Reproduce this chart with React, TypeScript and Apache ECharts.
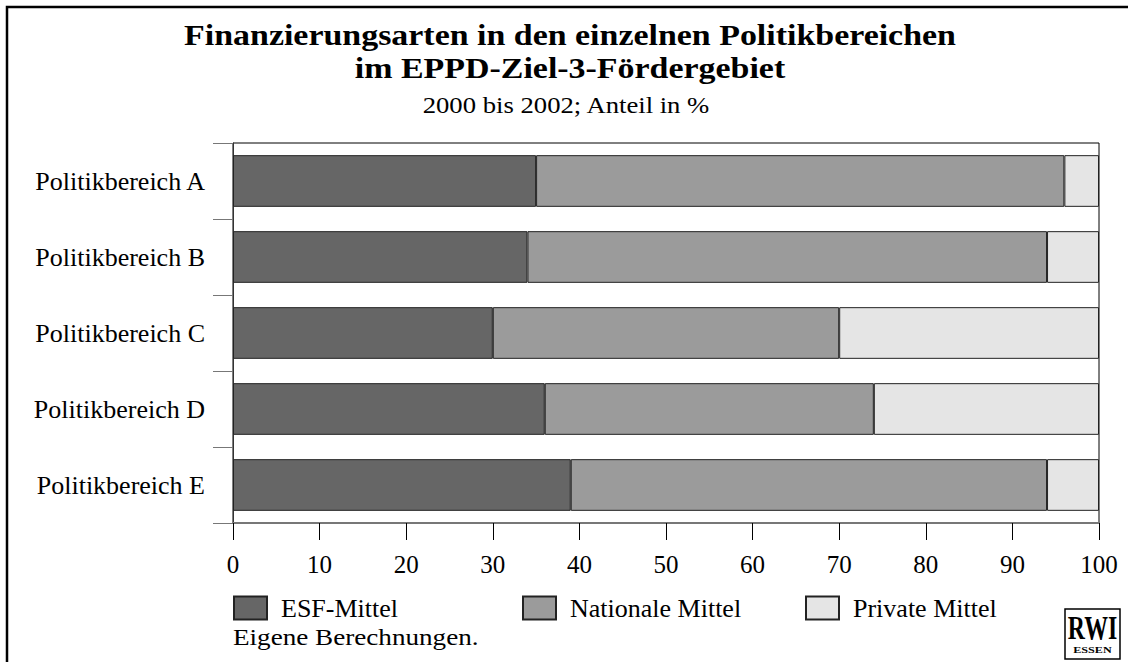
import React, { useEffect, useRef } from "react";
import * as echarts from "echarts";

const categories = ["Politikbereich A", "Politikbereich B", "Politikbereich C", "Politikbereich D", "Politikbereich E"];
const esf = [35, 34, 30, 36, 39];
const national = [61, 60, 40, 38, 55];
const privat = [4, 6, 30, 26, 6];
const xTicks = [0, 10, 20, 30, 40, 50, 60, 70, 80, 90, 100];
const seriesNames = ["ESF-Mittel", "Nationale Mittel", "Private Mittel"];
const colors = ["#666666", "#9b9b9b", "#e5e5e5"];

const FONT = "Liberation Serif";

export default function App() {
  const ref = useRef<HTMLDivElement>(null);
  useEffect(() => {
    if (!ref.current) return;
    const chart = echarts.init(ref.current, undefined, { renderer: "svg" });
    const data = [esf, national, privat];
    const legendLefts = [233, 522, 805];
    const txt = (text: string, x: number, y: number, size: number, bold: boolean, scaleX: number, align: string) => ({
      type: "text",
      x,
      y,
      scaleX,
      style: {
        text,
        fontFamily: FONT,
        fontSize: size,
        fontWeight: bold ? "bold" : "normal",
        fill: "#000",
        align,
        verticalAlign: "middle",
      },
    });
    chart.setOption({
      animation: false,
      backgroundColor: "#ffffff",
      textStyle: { fontFamily: FONT, color: "#000" },
      grid: {
        left: 233,
        right: 29,
        top: 143,
        bottom: 139,
        show: true,
        borderColor: "#000",
        borderWidth: 1,
        backgroundColor: "transparent",
      },
      xAxis: {
        type: "value",
        min: xTicks[0],
        max: xTicks[xTicks.length - 1],
        interval: 10,
        axisLine: { show: true, lineStyle: { color: "#777", width: 2 } },
        axisTick: { show: true, inside: false, length: 17, lineStyle: { color: "#000", width: 1 } },
        axisLabel: { fontFamily: FONT, fontSize: 25, color: "#000", margin: 29 },
        splitLine: { show: false },
      },
      yAxis: {
        type: "category",
        data: categories,
        inverse: true,
        boundaryGap: true,
        axisLine: { show: true, lineStyle: { color: "#333", width: 1 } },
        axisTick: { show: true, inside: false, length: 20, lineStyle: { color: "#777", width: 1 } },
        axisLabel: { fontFamily: FONT, fontSize: 26, color: "#000", margin: 28 },
      },
      legend: seriesNames.map((n, i) => ({
        data: [n],
        left: legendLefts[i],
        top: 595,
        padding: 0,
        orient: "horizontal",
        itemWidth: 33,
        itemHeight: 23,
        icon: "rect",
        selectedMode: false,
        textStyle: { fontFamily: FONT, fontSize: 26, color: "#000", padding: [0, 0, 0, 9] },
      })),
      series: seriesNames.map((n, i) => ({
        name: n,
        type: "bar",
        stack: "total",
        data: data[i],
        barWidth: "68%",
        itemStyle: { color: colors[i], borderColor: "#222", borderWidth: 1 },
        emphasis: { disabled: true },
      })),
      graphic: [
        {
          type: "rect",
          shape: { x: 7, y: 7, width: 1300, height: 800 },
          style: { fill: "none", stroke: "#000", lineWidth: 2.5 },
          silent: true,
        },
        txt("Finanzierungsarten in den einzelnen Politikbereichen", 570, 35, 29, true, 1.17, "center"),
        txt("im EPPD-Ziel-3-Fördergebiet", 570, 68, 29, true, 1.17, "center"),
        txt("2000 bis 2002; Anteil in %", 566, 105, 23, false, 1.16, "center"),
        txt("Eigene Berechnungen.", 233, 637, 23, false, 1.18, "left"),
        {
          type: "rect",
          shape: { x: 1065, y: 609, width: 55, height: 50 },
          style: { fill: "#fff", stroke: "#000", lineWidth: 1.5 },
        },
        txt("RWI", 1092.5, 627, 34, true, 0.7, "center"),
        txt("ESSEN", 1092.5, 650, 9, true, 1.35, "center"),
      ],
    });
    return () => chart.dispose();
  }, []);
  return (
    <div
      ref={ref}
      style={{ position: "fixed", left: 0, top: 0, width: 1128, height: 662, background: "#fff" }}
    />
  );
}
